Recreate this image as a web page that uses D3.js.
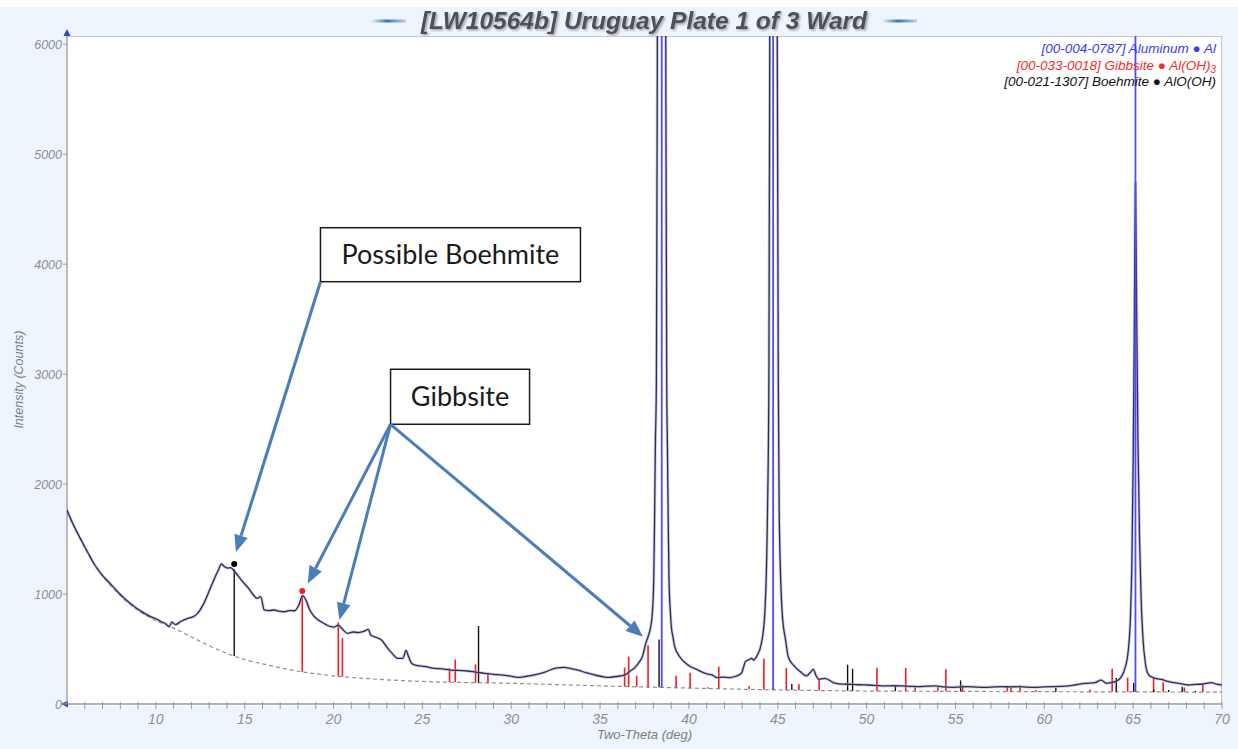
<!DOCTYPE html>
<html>
<head>
<meta charset="utf-8">
<script src="https://cdn.jsdelivr.net/npm/d3@7"></script>
<style>
  html, body { margin: 0; padding: 0; background: #fff; }
  svg { display: block; font-family: "Liberation Sans", Arial, sans-serif; }
</style>
</head>
<body>
<div id="xrd"></div>
<script>
'use strict'

////////////////////////////////////
//////////// data //////////////////
////////////////////////////////////

// measured pattern (two-theta in degrees, intensity in counts)
const twoTheta = [5.0, 5.3, 5.6, 5.9, 6.15, 6.5, 6.9, 7.4, 7.85, 8.3, 8.8, 9.2, 9.7, 10.0, 10.3, 10.55, 10.75, 10.9, 11.1, 11.4,
    11.8, 12.05, 12.35, 12.7, 13.1, 13.5, 13.7, 13.85, 14.05, 14.2, 14.4, 14.6, 14.9, 15.15, 15.45, 15.7, 15.9, 16.1, 16.4, 16.65,
    16.9, 17.25, 17.5, 17.8, 18.05, 18.25, 18.45, 18.65, 18.85, 19.05, 19.3, 19.6, 19.85, 20.05, 20.27, 20.5, 20.8, 21.1, 21.4, 21.7,
    21.95, 22.1, 22.4, 22.7, 23.05, 23.3, 23.6, 23.9, 24.08, 24.2, 24.4, 24.7, 25.1, 25.7, 26.1, 26.6, 27.1, 27.55, 28.0, 28.5,
    29.0, 29.45, 29.9, 30.4, 30.8, 31.3, 31.9, 32.45, 33.0, 33.4, 33.75, 34.2, 34.7, 35.1, 35.45, 35.9, 36.4, 36.7, 36.95, 37.2,
    37.4, 37.55, 37.7, 37.85, 37.94, 38.02, 38.07, 38.11, 38.17, 38.225, 38.3, 38.46, 38.62, 38.695, 38.75, 38.79, 38.83, 38.88, 38.96, 39.01,
    39.1, 39.2, 39.48, 39.95, 40.5, 41.0, 41.3, 41.6, 41.9, 42.3, 42.6, 42.95, 43.2, 43.35, 43.52, 43.65, 43.8, 44.08, 44.27, 44.42,
    44.5, 44.55, 44.62, 44.76, 44.9, 44.97, 45.03, 45.08, 45.25, 45.44, 45.59, 45.87, 46.3, 46.6, 46.85, 47.0, 47.15, 47.3, 47.65, 48.2,
    48.7, 49.15, 49.6, 50.1, 50.6, 51.0, 51.5, 52.0, 52.5, 52.9, 53.4, 53.85, 54.3, 54.8, 55.3, 55.7, 56.2, 56.7, 57.2, 57.6,
    58.1, 58.55, 59.0, 59.5, 60.0, 60.4, 60.9, 61.35, 61.8, 62.3, 62.85, 63.2, 63.5, 63.75, 64.0, 64.3, 64.55, 64.72, 64.85, 64.93,
    65.0, 65.06, 65.13, 65.2, 65.27, 65.36, 65.45, 65.55, 65.68, 65.85, 66.05, 66.3, 66.6, 67.0, 67.3, 67.55, 68.1, 68.5, 68.9, 69.4,
    69.7, 70.0]
const counts = [1764, 1650, 1552, 1460, 1385, 1280, 1188, 1100, 1021, 950, 885, 840, 794, 775, 748, 730, 703, 745, 722, 750,
    779, 790, 824, 915, 1066, 1212, 1273, 1250, 1236, 1240, 1212, 1172, 1110, 1066, 1000, 961, 976, 855, 850, 855,
    845, 839, 850, 848, 900, 985, 945, 860, 809, 775, 748, 720, 703, 700, 718, 680, 642, 655, 650, 660,
    679, 627, 605, 582, 506, 460, 415, 415, 487, 440, 369, 350, 342, 324, 320, 309, 305, 300, 290, 279,
    270, 264, 255, 242, 250, 264, 290, 324, 333, 320, 309, 285, 264, 250, 242, 250, 264, 300, 330, 380,
    440, 540, 612, 703, 824, 1127, 1733, 2339, 2945, 6100, 12000, 28000, 12000, 6100, 2945, 2339, 1733, 1127, 824, 703,
    612, 521, 430, 355, 309, 275, 264, 240, 245, 240, 250, 279, 390, 400, 415, 400, 430, 552, 824, 1733,
    2945, 6100, 12000, 25000, 12000, 6100, 2945, 1733, 824, 582, 430, 355, 290, 255, 290, 315, 260, 225, 233, 190,
    180, 179, 175, 173, 168, 164, 166, 164, 160, 158, 162, 164, 156, 152, 156, 158, 154, 152, 156, 158,
    156, 158, 154, 152, 156, 158, 160, 164, 175, 188, 194, 218, 188, 195, 203, 240, 330, 480, 800, 1300,
    2200, 3300, 4740, 3500, 2400, 1500, 950, 600, 380, 270, 245, 230, 224, 203, 195, 188, 173, 178, 182, 194,
    180, 173]

// fitted background (dashed)
const bgTheta = [5, 6, 7, 8, 9, 10, 11, 12, 13, 14, 15, 16, 17, 18, 19, 20, 22, 25, 30, 35, 40, 45, 50, 55, 60, 65, 70]
const bgCounts = [1750, 1420, 1165, 985, 850, 760, 690, 610, 530, 460, 405, 365, 330, 298, 275, 256, 230, 205, 188, 165, 145, 128, 118, 115, 112, 110, 108]

// reference cards: stick positions and heights above background (counts)
const aluminumTheta = [38.47, 44.74, 65.13]
const aluminumHeight = [30000, 14100, 6600]

const gibbsiteTheta = [18.24, 20.27, 20.50, 26.53, 26.85, 27.99, 28.69, 36.38, 36.61, 37.06, 37.70, 39.28, 40.07, 41.08, 41.68, 43.39,
    44.22, 44.76, 45.48, 46.19, 47.33, 50.58, 52.20, 52.73, 54.01, 54.46, 55.40, 57.92, 58.13, 58.64, 59.54, 62.57, 63.82, 64.69,
    66.15, 66.69, 67.88, 68.92]
const gibbsiteHeight = [690, 490, 350, 125, 206, 165, 90, 172, 272, 100, 380, 110, 140, 10, 200, 28,
    280, 15, 200, 55, 100, 212, 212, 35, 40, 200, 55, 45, 45, 55, 15, 20, 210, 130,
    130, 88, 42, 70]

const boehmiteTheta = [14.41, 28.16, 38.32, 45.79, 48.93, 49.21, 51.62, 55.29, 60.65, 64.05, 65.03, 66.16, 67.0, 67.76, 68.5]
const boehmiteHeight = [790, 515, 435, 55, 237, 200, 52, 100, 33, 125, 82, 20, 18, 48, 10]

// marked lines (dots above the sticks)
const markedTheta = [14.41, 18.24]
const markedPhase = ['boehmite', 'gibbsite']

// legend lines
const legendText = ['[00-004-0787] Aluminum \u25CF Al', '[00-033-0018] Gibbsite \u25CF Al(OH)', '[00-021-1307] Boehmite \u25CF AlO(OH)']
const legendSub = ['', '3', '']
const legendColor = ['#3a3af5', '#f52a2a', '#111111']

// call-outs (box centres and arrow tips in data units)
const boxLabels = ['Possible Boehmite', 'Gibbsite']
const boxTheta = [26.58, 27.12]
const boxCounts = [4086, 2794]
const arrowTipTheta = [14.51, 18.55, 20.33, 37.42]
const arrowTipCounts = [1382, 1097, 764, 612]
const arrowFromBox = [0, 1, 1, 1]

const xTicks = [10, 15, 20, 25, 30, 35, 40, 45, 50, 55, 60, 65, 70]
const yTicks = [0, 1000, 2000, 3000, 4000, 5000, 6000]

////////////////////////////////////
//////////// svg setup /////////////
////////////////////////////////////

const svgWidth = 1238
const svgHeight = 749
const margin = { left: 67, right: 16, top: 36, bottom: 45 }
const width = svgWidth - margin.left - margin.right
const height = svgHeight - margin.top - margin.bottom

const root = d3.select('#xrd')
    .append('svg')
    .attr('width', svgWidth)
    .attr('height', svgHeight)

const defs = root.append('defs')

defs.append('clipPath').attr('id', 'plot-clip')
    .append('rect').attr('width', width).attr('height', height)

const dashGrad = defs.append('linearGradient').attr('id', 'dash-grad')
dashGrad.append('stop').attr('offset', '0%').attr('stop-color', '#3f7fbf').attr('stop-opacity', 0)
dashGrad.append('stop').attr('offset', '45%').attr('stop-color', '#3a72ad').attr('stop-opacity', 1)
dashGrad.append('stop').attr('offset', '100%').attr('stop-color', '#3f7fbf').attr('stop-opacity', 0.3)

const shadow = defs.append('filter').attr('id', 'title-shadow')
    .attr('x', '-5%').attr('y', '-30%').attr('width', '110%').attr('height', '160%')
shadow.append('feDropShadow').attr('dx', 1.5).attr('dy', 1.5).attr('stdDeviation', 1)
    .attr('flood-color', '#000').attr('flood-opacity', 0.35)

// page background
root.append('rect').attr('x', 0).attr('y', 7).attr('width', svgWidth).attr('height', svgHeight - 7)
    .attr('fill', '#eef5fc')

// title
const titleX = 644
root.append('text')
    .attr('x', titleX).attr('y', 29)
    .attr('text-anchor', 'middle')
    .attr('font-size', 24.5).attr('font-weight', 'bold').attr('font-style', 'italic')
    .attr('fill', '#4d5155')
    .attr('filter', 'url(#title-shadow)')
    .text('[LW10564b] Uruguay Plate 1 of 3 Ward')

root.append('rect').attr('x', 371).attr('y', 19.5).attr('width', 35).attr('height', 3).attr('fill', 'url(#dash-grad)')
root.append('rect').attr('x', 882).attr('y', 19.5).attr('width', 35).attr('height', 3).attr('fill', 'url(#dash-grad)')

const svg = root.append('g')
    .attr('transform', 'translate(' + margin.left + ',' + margin.top + ')')

// plot area
svg.append('rect')
    .attr('x', 0).attr('y', 0).attr('width', width).attr('height', height + 2)
    .attr('fill', '#ffffff')

////////////////////////////////////
//////////// Scales ////////////////
////////////////////////////////////

const x = d3.scaleLinear().domain([5, 70]).range([0, width])
const y = d3.scaleLinear().domain([0, 6075]).range([height, 0])
const bg = d3.scaleLinear().domain(bgTheta).range(bgCounts)

// frame (top and right)
svg.append('path')
    .attr('d', `M0,0.5 H${width - 0.5} V${height}`)
    .attr('fill', 'none').attr('stroke', '#c4c8cc').attr('stroke-width', 1.2)

////////////////////////////////////
//////////// Axes //////////////////
////////////////////////////////////

const axisColor = '#9a9a9a'
const labelColor = '#8e8e8e'

// x axis
const xAxis = svg.append('g').attr('transform', `translate(0,${height})`)
xAxis.append('line').attr('x1', 0).attr('x2', width).attr('stroke', axisColor).attr('stroke-width', 1.3)
xAxis.selectAll('.minor')
    .data(d3.range(6, 71, 1))
    .join('line')
    .attr('x1', d => x(d)).attr('x2', d => x(d))
    .attr('y1', -2).attr('y2', 5)
    .attr('stroke', axisColor).attr('stroke-width', 1)
xAxis.selectAll('.xlab')
    .data(xTicks)
    .join('text')
    .attr('x', d => x(d)).attr('y', 20)
    .attr('text-anchor', 'middle')
    .attr('font-size', 14).attr('font-style', 'italic')
    .attr('fill', labelColor)
    .text(d => d)
xAxis.append('text')
    .attr('x', x(37.5)).attr('y', 35)
    .attr('text-anchor', 'middle')
    .attr('font-size', 13).attr('font-style', 'italic')
    .attr('fill', '#7d7d7d')
    .text('Two-Theta (deg)')
xAxis.append('path')
    .attr('d', 'M-6,0 L1,-3.5 L1,3.5 Z')
    .attr('fill', '#2a45c8')

// y axis
const yAxis = svg.append('g')
yAxis.append('line').attr('y1', 0).attr('y2', height).attr('stroke', axisColor).attr('stroke-width', 1.3)
yAxis.selectAll('.ytick')
    .data(yTicks)
    .join('line')
    .attr('x1', -4).attr('x2', 0)
    .attr('y1', d => y(d)).attr('y2', d => y(d))
    .attr('stroke', axisColor)
yAxis.selectAll('.ylab')
    .data(yTicks)
    .join('text')
    .attr('x', -5).attr('y', d => y(d) + 4.5)
    .attr('text-anchor', 'end')
    .attr('font-size', 12.5).attr('font-style', 'italic')
    .attr('fill', labelColor)
    .text(d => d)
yAxis.append('path')
    .attr('d', 'M0,-7 L3.5,0 L-3.5,0 Z')
    .attr('fill', '#2a45c8')

root.append('text')
    .attr('transform', `translate(23,${margin.top + y(2950)}) rotate(-90)`)
    .attr('text-anchor', 'middle')
    .attr('font-size', 12.5).attr('font-style', 'italic')
    .attr('fill', '#7d7d7d')
    .text('Intensity (Counts)')

////////////////////////////////////
//////////// add to DOM ////////////
////////////////////////////////////

const plot = svg.append('g').attr('clip-path', 'url(#plot-clip)')

// background curve
plot.append('path')
    .datum(bgTheta)
    .attr('d', d3.line().x(d => x(d)).y((d, i) => y(bgCounts[i])).curve(d3.curveMonotoneX))
    .attr('fill', 'none')
    .attr('stroke', '#8c8f96')
    .attr('stroke-width', 1.2)
    .attr('stroke-dasharray', '4,3')

// reference sticks
function sticks(thetas, heights, color, w) {
    plot.append('g').selectAll('line')
        .data(thetas)
        .join('line')
        .attr('x1', d => x(d)).attr('x2', d => x(d))
        .attr('y1', d => y(bg(d)))
        .attr('y2', (d, i) => y(bg(d) + heights[i]))
        .attr('stroke', color)
        .attr('stroke-width', w)
}
sticks(gibbsiteTheta, gibbsiteHeight, '#f41c1c', 1.6)
sticks(boehmiteTheta, boehmiteHeight, '#111111', 1.4)

// measured pattern
const patternLine = d3.line()
    .x(d => x(d))
    .y((d, i) => y(counts[i]))
    .curve(d3.curveMonotoneX)

plot.append('path')
    .datum(twoTheta)
    .attr('d', patternLine)
    .attr('fill', 'none')
    .attr('stroke', '#a4a4c4')
    .attr('stroke-width', 3)
    .attr('stroke-opacity', 0.55)

plot.append('path')
    .datum(twoTheta)
    .attr('d', patternLine)
    .attr('fill', 'none')
    .attr('stroke', '#2d2d5c')
    .attr('stroke-width', 1.3)

sticks(aluminumTheta, aluminumHeight, '#4b4bff', 1.8)

// marker dots above the selected sticks
svg.selectAll('.mark')
    .data(markedTheta)
    .join('circle')
    .attr('cx', d => x(d))
    .attr('cy', (d, i) => {
        const idx = markedPhase[i] === 'gibbsite' ? gibbsiteTheta.indexOf(d) : boehmiteTheta.indexOf(d)
        const h = markedPhase[i] === 'gibbsite' ? gibbsiteHeight[idx] : boehmiteHeight[idx]
        return y(bg(d) + h) - 5
    })
    .attr('r', 3)
    .attr('fill', (d, i) => markedPhase[i] === 'gibbsite' ? '#f41c1c' : '#000')

// legend
const legend = svg.append('g')
legendText.forEach((t, i) => {
    const txt = legend.append('text')
        .attr('x', width - 6)
        .attr('y', 17 + i * 16.5)
        .attr('text-anchor', 'end')
        .attr('font-size', 13.5).attr('font-style', 'italic')
        .attr('fill', legendColor[i])
        .text(t)
    if (legendSub[i]) {
        txt.append('tspan').attr('font-size', 10).attr('dy', 3).text(legendSub[i])
    }
})

////////////////////////////////////
//////////// call-outs /////////////
////////////////////////////////////

const note = svg.append('g')
const boxW = [260, 139]
const boxH = [54, 55]
const corners = []

boxLabels.forEach((label, i) => {
    const cx = x(boxTheta[i])
    const cy = y(boxCounts[i])
    note.append('rect')
        .attr('x', cx - boxW[i] / 2).attr('y', cy - boxH[i] / 2)
        .attr('width', boxW[i]).attr('height', boxH[i])
        .attr('fill', '#fff').attr('stroke', '#1a1a1a').attr('stroke-width', 1.5)
    note.append('text')
        .attr('x', cx).attr('y', cy + 9)
        .attr('text-anchor', 'middle')
        .attr('font-family', 'Lato, "Open Sans", sans-serif')
        .attr('font-size', 27)
        .attr('fill', '#1a1a1a')
        .text(label)
    corners.push([cx - boxW[i] / 2, cy + boxH[i] / 2])
})

const arrowColor = '#4a7ebb'
arrowTipTheta.forEach((t, i) => {
    const [sx, sy] = corners[arrowFromBox[i]]
    const tx = x(t)
    const ty = y(arrowTipCounts[i])
    const ang = Math.atan2(ty - sy, tx - sx)
    const headLen = 17, headHalf = 7
    const bx = tx - headLen * Math.cos(ang)
    const by = ty - headLen * Math.sin(ang)
    note.append('line')
        .attr('x1', sx).attr('y1', sy).attr('x2', bx).attr('y2', by)
        .attr('stroke', arrowColor).attr('stroke-width', 3)
    const px = -Math.sin(ang) * headHalf
    const py = Math.cos(ang) * headHalf
    note.append('path')
        .attr('d', `M${tx},${ty} L${bx + px},${by + py} L${bx - px},${by - py} Z`)
        .attr('fill', arrowColor)
})
</script>
</body>
</html>
